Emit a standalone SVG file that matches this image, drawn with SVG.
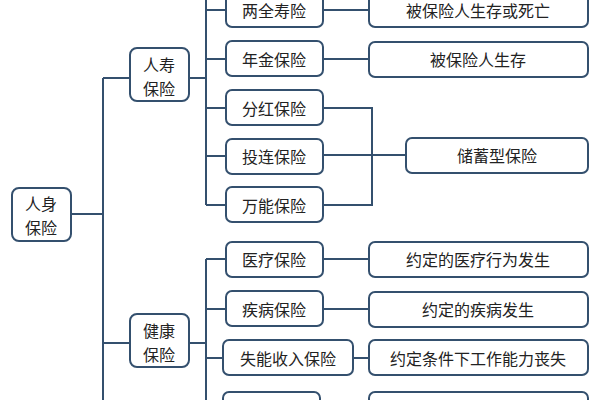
<svg xmlns="http://www.w3.org/2000/svg" width="600" height="400" viewBox="0 0 600 400">
<style>
.b{fill:#fff;stroke:#34506e;stroke-width:2}
.c line,.c path{stroke:#34506e;stroke-width:2;fill:none}
text{font-family:"Noto Sans CJK SC",sans-serif;font-size:16px;fill:#222;text-anchor:middle;dominant-baseline:central}
</style>
<rect width="600" height="400" fill="#fff"/>
<g class="c">
<line x1="71" y1="214" x2="103" y2="214"/>
<line x1="103" y1="78" x2="103" y2="402"/>
<line x1="103" y1="78" x2="130" y2="78"/>
<line x1="103" y1="343" x2="130" y2="343"/>
<line x1="189" y1="78" x2="206" y2="78"/>
<line x1="206" y1="-2" x2="206" y2="205"/>
<line x1="206" y1="10" x2="226" y2="10"/>
<line x1="206" y1="59" x2="226" y2="59"/>
<line x1="206" y1="108" x2="226" y2="108"/>
<line x1="206" y1="156" x2="226" y2="156"/>
<line x1="206" y1="205" x2="226" y2="205"/>
<line x1="189" y1="343" x2="206" y2="343"/>
<line x1="206" y1="259" x2="206" y2="402"/>
<line x1="206" y1="259" x2="226" y2="259"/>
<line x1="206" y1="309" x2="226" y2="309"/>
<line x1="206" y1="358" x2="223" y2="358"/>
<line x1="323" y1="10" x2="369" y2="10"/>
<line x1="323" y1="59" x2="369" y2="59"/>
<path d="M323 108H372V205H323M323 155H406"/>
<line x1="323" y1="259" x2="369" y2="259"/>
<line x1="323" y1="309" x2="369" y2="309"/>
<line x1="353" y1="358" x2="369" y2="358"/>
</g>
<g id="root"><rect class="b" x="12" y="188" width="59" height="53" rx="7"/><text x="41" y="203">人身</text><text x="41" y="227">保险</text></g>
<g id="life"><rect class="b" x="130" y="48" width="59" height="53" rx="7"/><text x="159" y="64">人寿</text><text x="159" y="88">保险</text></g>
<g id="health"><rect class="b" x="130" y="314" width="59" height="53" rx="7"/><text x="159" y="330">健康</text><text x="159" y="354">保险</text></g>
<g id="n1"><rect class="b" x="226" y="-8" width="97" height="35" rx="6"/><text x="274" y="10">两全寿险</text></g>
<g id="n2"><rect class="b" x="226" y="41" width="97" height="35" rx="6"/><text x="274" y="59">年金保险</text></g>
<g id="n3"><rect class="b" x="226" y="90" width="97" height="35" rx="6"/><text x="274" y="108">分红保险</text></g>
<g id="n4"><rect class="b" x="226" y="139" width="97" height="35" rx="6"/><text x="274" y="156">投连保险</text></g>
<g id="n5"><rect class="b" x="226" y="187" width="97" height="35" rx="6"/><text x="274" y="205">万能保险</text></g>
<g id="n6"><rect class="b" x="226" y="242" width="97" height="35" rx="6"/><text x="274" y="259">医疗保险</text></g>
<g id="n7"><rect class="b" x="226" y="291" width="97" height="35" rx="6"/><text x="274" y="309">疾病保险</text></g>
<g id="n8"><rect class="b" x="223" y="340" width="130" height="35" rx="6"/><text x="288" y="358">失能收入保险</text></g>
<g id="n9"><rect class="b" x="223" y="392" width="97" height="35" rx="6"/></g>
<g id="d1"><rect class="b" x="369" y="-8" width="219" height="35" rx="6"/><text x="478" y="10">被保险人生存或死亡</text></g>
<g id="d2"><rect class="b" x="369" y="42" width="219" height="35" rx="6"/><text x="478" y="59">被保险人生存</text></g>
<g id="d3"><rect class="b" x="406" y="138" width="182" height="35" rx="6"/><text x="497" y="155">储蓄型保险</text></g>
<g id="d4"><rect class="b" x="369" y="242" width="219" height="35" rx="6"/><text x="478" y="259">约定的医疗行为发生</text></g>
<g id="d5"><rect class="b" x="369" y="292" width="219" height="35" rx="6"/><text x="478" y="309">约定的疾病发生</text></g>
<g id="d6"><rect class="b" x="369" y="340" width="219" height="35" rx="6"/><text x="478" y="358">约定条件下工作能力丧失</text></g>
<g id="d7"><rect class="b" x="369" y="392" width="219" height="35" rx="6"/></g>
</svg>
